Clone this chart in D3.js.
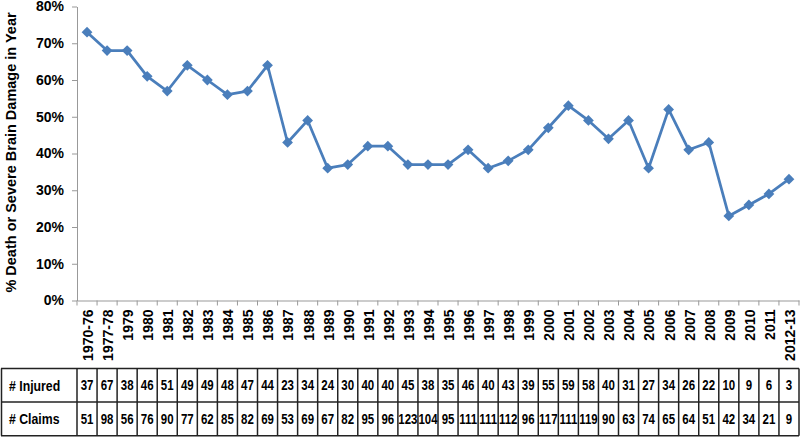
<!DOCTYPE html>
<html><head><meta charset="utf-8">
<script src="https://cdn.jsdelivr.net/npm/d3@7"></script>
<style>body{margin:0;background:#fff}svg{display:block}text{font-family:"Liberation Sans",Arial,sans-serif;font-weight:bold}</style>
</head><body><svg id="c" width="800" height="438"></svg>
<script>
const categories = ["1970-76","1977-78","1979","1980","1981","1982","1983","1984","1985","1986","1987","1988","1989","1990","1991","1992","1993","1994","1995","1996","1997","1998","1999","2000","2001","2002","2003","2004","2005","2006","2007","2008","2009","2010","2011","2012-13"];
const pctDeath = [73,68,68,61,57,64,60,56,57,64,43,49,36,37,42,42,37,37,37,41,36,38,41,47,53,49,44,49,36,52,41,43,23,26,29,33];
const injured = [37,67,38,46,51,49,49,48,47,44,23,34,24,30,40,40,45,38,35,46,40,43,39,55,59,58,40,31,27,34,26,22,10,9,6,3];
const claims = [51,98,56,76,90,77,62,85,82,69,53,69,67,82,95,96,123,104,95,111,111,112,96,117,111,119,90,63,74,65,64,51,42,34,21,9];
const yTicks = [0,10,20,30,40,50,60,70,80];

(function () {
const svg = d3.select("#c");
const pL = 77, pR = 799, pT = 6.5, pB = 300.5;
const x = d3.scaleBand().domain(categories).range([pL, pR]).padding(0);
const y = d3.scaleLinear().domain([0, 80]).range([pB, pT]);
const axisCol = "#999999";

// y axis
const ya = svg.append("g").attr("transform", `translate(${pL},0)`)
  .call(d3.axisLeft(y).tickValues(yTicks).tickFormat(d => d + "%").tickSize(5).tickSizeOuter(0));
ya.select(".domain").attr("stroke", axisCol);
ya.selectAll(".tick line").attr("stroke", axisCol);
ya.selectAll(".tick text").attr("font-size", 14).attr("fill", "#000").attr("x", -13);

// x axis
const xa = svg.append("g").attr("transform", `translate(0,${pB})`)
  .call(d3.axisBottom(x).tickSize(0).tickSizeOuter(0));
xa.select(".domain").attr("stroke", axisCol);
xa.selectAll(".tick text").attr("font-size", 14).attr("fill", "#000")
  .attr("transform", "rotate(-90)").attr("text-anchor", "end")
  .attr("x", -9).attr("y", 1).attr("dy", "0.35em");
const bounds = categories.map(c => x(c)).concat([pR]);
svg.append("g").selectAll("line").data(bounds).join("line")
  .attr("x1", d => d).attr("x2", d => d).attr("y1", pB).attr("y2", pB + 5)
  .attr("stroke", axisCol);

// y title
svg.append("text").attr("transform", `translate(16,152.5) rotate(-90)`)
  .attr("text-anchor", "middle").attr("font-size", 14.5).text("% Death or Severe Brain Damage in Year");

// line
const cx = c => x(c) + x.bandwidth() / 2;
const color = "#4A7EBB";
svg.append("path").datum(pctDeath)
  .attr("d", d3.line().x((d, i) => cx(categories[i])).y(d => y(d)))
  .attr("fill", "none").attr("stroke", color).attr("stroke-width", 2.75).attr("stroke-linejoin", "round");
svg.append("g").selectAll("path").data(pctDeath).join("path")
  .attr("d", d3.symbol().type(d3.symbolSquare).size(58))
  .attr("transform", (d, i) => `translate(${cx(categories[i])},${y(d)}) rotate(45)`)
  .attr("fill", color);

// table
const t0 = 368.5, rh = 33.6, sx = 0.82;
const tbl = svg.append("g");
const rows = [["# Injured", injured], ["# Claims", claims]];
rows.forEach((r, ri) => {
  const yy = t0 + ri * rh + rh / 2;
  tbl.append("text").attr("transform", `translate(9,${yy}) scale(${sx},1)`).attr("dy", "0.36em")
    .attr("font-size", 15).text(r[0]);
  tbl.append("g").selectAll("text").data(r[1]).join("text")
    .attr("transform", (d, i) => `translate(${cx(categories[i])},${yy}) scale(${sx},1)`).attr("dy", "0.36em")
    .attr("text-anchor", "middle").attr("font-size", 14).text(d => d);
});
[t0, t0 + rh, t0 + 2 * rh].forEach(v => tbl.append("line").attr("x1", 1).attr("x2", pR).attr("y1", v).attr("y2", v).attr("stroke", "#222").attr("stroke-width", 1.5));
[1.5].concat(bounds).forEach(v => tbl.append("line").attr("x1", v).attr("x2", v).attr("y1", t0).attr("y2", t0 + 2 * rh).attr("stroke", "#222").attr("stroke-width", 1.5));
})();
</script></body></html>
